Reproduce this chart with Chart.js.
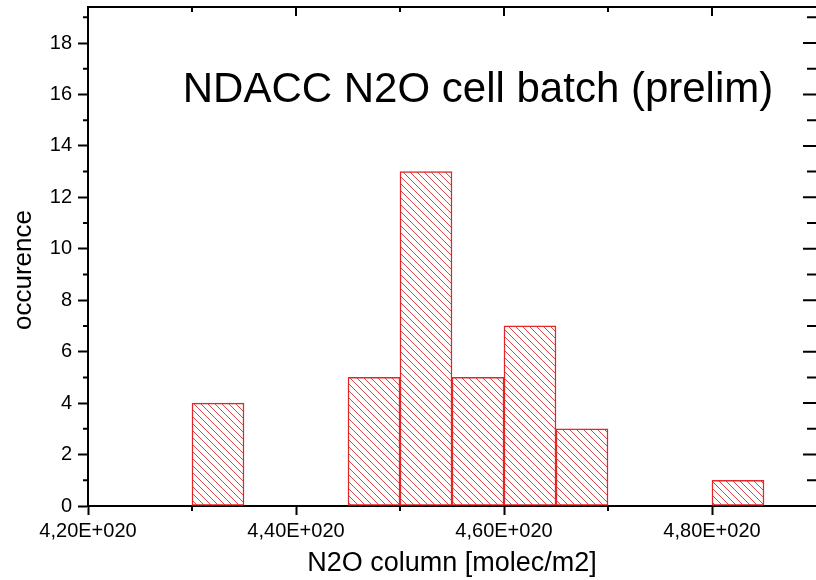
<!DOCTYPE html>
<html>
<head>
<meta charset="utf-8">
<script src="https://cdn.jsdelivr.net/npm/chart.js@4"></script>
<style>
  html, body { margin: 0; padding: 0; background: #fff; overflow: hidden; }
  canvas { display: block; }
</style>
</head>
<body>
<canvas id="c" width="816" height="580" style="width:816px;height:580px"></canvas>
<script>
// ---- data ----
const binCenters = [4.325e20, 4.475e20, 4.525e20, 4.575e20, 4.625e20, 4.675e20, 4.825e20];
const occurrences = [4, 5, 13, 5, 7, 3, 1];
const xTickValues = [4.2e20, 4.4e20, 4.6e20, 4.8e20];
const xMinorTickValues = [4.3e20, 4.5e20, 4.7e20];
const yTickValues = [0, 2, 4, 6, 8, 10, 12, 14, 16, 18];
const yMinorTickValues = [1, 3, 5, 7, 9, 11, 13, 15, 17, 19];
const chartTitle = 'NDACC N2O cell batch (prelim)';
const xTitle = 'N2O column [molec/m2]';
const yTitle = 'occurence';

const FONT = '"Liberation Sans", Arial, sans-serif';
const RED = 'rgb(228,38,40)';

function hatchPattern() {
  const s = 7;
  const c = document.createElement('canvas');
  c.width = s; c.height = s;
  const g = c.getContext('2d');
  g.fillStyle = '#fff';
  g.fillRect(0, 0, s, s);
  g.strokeStyle = 'rgb(222,70,72)';
  g.lineWidth = 1;
  g.beginPath();
  g.moveTo(-1, -1); g.lineTo(s + 1, s + 1);
  g.moveTo(-1, s - 1); g.lineTo(1, s + 1);
  g.moveTo(s - 1, -1); g.lineTo(s + 1, 1);
  g.stroke();
  return g.createPattern(c, 'repeat');
}

const points = binCenters.map((x, i) => ({ x: x, y: occurrences[i] }));

const framePlugin = {
  id: 'frame',
  afterDraw(chart) {
    const ctx = chart.ctx;
    const xs = chart.scales.x, ys = chart.scales.y;
    const a = chart.chartArea;
    ctx.save();
    ctx.strokeStyle = '#000';
    ctx.lineWidth = 2;
    ctx.beginPath();
    // top frame
    ctx.moveTo(a.left, a.top); ctx.lineTo(a.right, a.top);
    // left minor ticks (outward)
    yMinorTickValues.forEach(v => {
      const y = ys.getPixelForValue(v);
      if (y < a.top) return;
      ctx.moveTo(a.left, y); ctx.lineTo(a.left - 5, y);
    });
    // bottom minor ticks (outward)
    xMinorTickValues.forEach(v => {
      const x = xs.getPixelForValue(v);
      ctx.moveTo(x, a.bottom); ctx.lineTo(x, a.bottom + 5);
    });
    // top ticks (inward)
    xTickValues.forEach(v => {
      const x = xs.getPixelForValue(v);
      ctx.moveTo(x, a.top); ctx.lineTo(x, a.top + 9);
    });
    xMinorTickValues.forEach(v => {
      const x = xs.getPixelForValue(v);
      ctx.moveTo(x, a.top); ctx.lineTo(x, a.top + 5);
    });
    // right ticks (inward, from the frame just outside the canvas)
    yTickValues.forEach(v => {
      const y = ys.getPixelForValue(v);
      ctx.moveTo(a.right, y); ctx.lineTo(a.right - 13, y);
    });
    yMinorTickValues.forEach(v => {
      const y = ys.getPixelForValue(v);
      if (y < a.top) return;
      ctx.moveTo(a.right, y); ctx.lineTo(a.right - 9, y);
    });
    ctx.stroke();
    // in-plot title
    ctx.fillStyle = '#000';
    ctx.font = '42px ' + FONT;
    ctx.textAlign = 'center';
    ctx.textBaseline = 'alphabetic';
    ctx.fillText(chartTitle, 478, 102);
    // y axis title
    ctx.save();
    ctx.translate(31, 270);
    ctx.rotate(-Math.PI / 2);
    ctx.font = '26px ' + FONT;
    ctx.textAlign = 'center';
    ctx.textBaseline = 'alphabetic';
    ctx.fillText(yTitle, 0, 0);
    ctx.restore();
    ctx.restore();
  }
};

new Chart(document.getElementById('c'), {
  type: 'bar',
  data: {
    datasets: [{
      data: points,
      backgroundColor: hatchPattern(),
      borderColor: RED,
      borderWidth: 1.5,
      borderSkipped: false,
      barPercentage: 1,
      categoryPercentage: 1
    }]
  },
  options: {
    responsive: false,
    animation: false,
    devicePixelRatio: 1,
    layout: { padding: { left: 0, top: 7, right: -6, bottom: 0 } },
    plugins: { legend: { display: false }, tooltip: { enabled: false } },
    scales: {
      x: {
        type: 'linear',
        min: 4.2e20,
        max: 4.9e20,
        offset: false,
        afterBuildTicks: s => { s.ticks = xTickValues.map(v => ({ value: v })); },
        afterFit: s => { s.height = 74; s.paddingLeft = 0; s.paddingRight = 0; },
        border: { display: true, color: '#000', width: 2 },
        grid: { display: true, offset: false, drawOnChartArea: false, drawTicks: true, tickLength: 9, tickWidth: 2, tickColor: '#000' },
        ticks: {
          color: '#000',
          font: { family: FONT, size: 20 },
          padding: 4,
          maxRotation: 0,
          autoSkip: false,
          callback: v => (v / 1e20).toFixed(2).replace('.', ',') + 'E+020'
        },
        title: { display: true, text: xTitle, color: '#000', font: { family: FONT, size: 27 }, padding: { top: 0, bottom: 0 } }
      },
      y: {
        min: 0,
        max: 19.4,
        afterBuildTicks: s => { s.ticks = yTickValues.map(v => ({ value: v })); },
        afterFit: s => { s.width = 88; s.paddingTop = 0; s.paddingBottom = 0; },
        border: { display: true, color: '#000', width: 2 },
        grid: { display: true, offset: false, drawOnChartArea: false, drawTicks: true, tickLength: 10, tickWidth: 2, tickColor: '#000' },
        ticks: {
          color: '#000',
          font: { family: FONT, size: 20 },
          padding: 6,
          autoSkip: false
        },
        title: { display: false, text: yTitle }
      }
    }
  },
  plugins: [framePlugin]
});
</script>
</body>
</html>
